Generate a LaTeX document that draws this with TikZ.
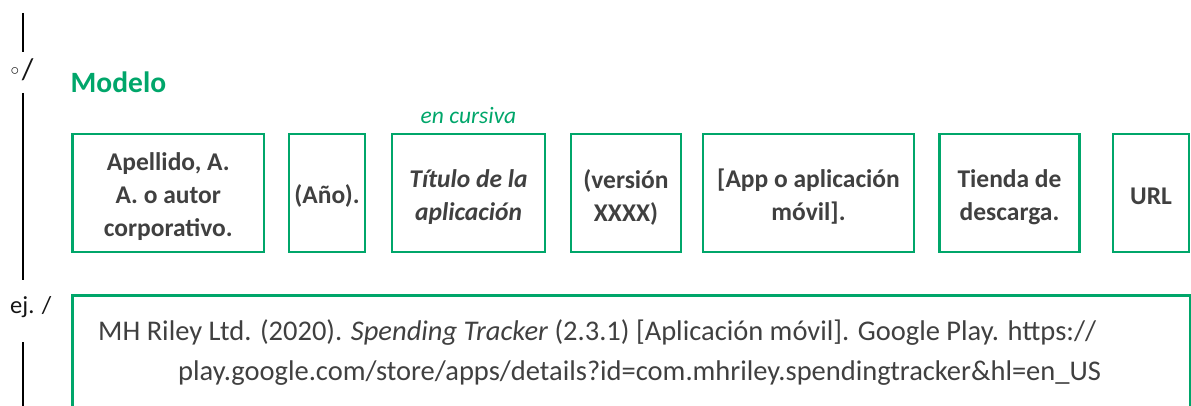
\documentclass[tikz,border=0pt]{standalone}
\usepackage{fontspec}
\setmainfont{Carlito}
\newfontfamily\djv{DejaVu Sans}
\definecolor{apagreen}{RGB}{0,166,106}
\definecolor{txtgray}{RGB}{64,64,64}
\definecolor{marktext}{RGB}{20,20,20}
\begin{document}
\begin{tikzpicture}[x=1pt,y=-1pt,
  fbox/.style={draw=apagreen, line width=2.5pt, inner sep=0pt, minimum height=118pt},
  ftext/.style={inner sep=0pt, align=center, text=txtgray,
    font=\fontsize{25.5}{33}\selectfont\bfseries},
  rulebar/.style={line width=1.3pt, draw=black},
  marklbl/.style={inner sep=0pt, text=marktext, anchor=base west},
  reftext/.style={inner sep=0pt, text=txtgray, anchor=base west,
    font=\fontsize{28.5}{34}\selectfont}]
\useasboundingbox (0,0) rectangle (1191,406);
\clip (0,0) rectangle (1191,406);

% left markers
\coordinate (l1a) at (23,13);
\coordinate (l1b) at (23,52);
\coordinate (l2a) at (23,93);
\coordinate (l2b) at (23,280);
\coordinate (l3a) at (23,342);
\coordinate (l3b) at (23,410);
\draw[rulebar] (l1a) -- (l1b);
\draw[rulebar] (l2a) -- (l2b);
\draw[rulebar] (l3a) -- (l3b);
\node[marklbl] (m1) at (8,80) {{\djv\fontsize{23}{23}\selectfont ◦}{\fontsize{30}{30}\selectfont /}};
\node[marklbl, font=\fontsize{24.5}{28}\selectfont] (m2) at (10,313) {ej. /};

% heading
\node[inner sep=0pt, anchor=base west, text=apagreen,
  font=\fontsize{29.5}{32}\selectfont\bfseries] (modelo) at (70.5,92.5) {Modelo};
\node[inner sep=0pt, anchor=base, text=apagreen,
  font=\fontsize{23.5}{26}\selectfont\itshape] (cursiva) at (468.5,124) {en cursiva};

% model boxes
\node[fbox, minimum width=191.5pt] (b1) at (168.25,193) {};
\node[fbox, minimum width=76pt] (b2) at (327,193) {};
\node[fbox, minimum width=153pt] (b3) at (468.5,193) {};
\node[fbox, minimum width=110pt] (b4) at (626,193) {};
\node[fbox, minimum width=211pt] (b5) at (808.5,193) {};
\node[fbox, minimum width=140pt] (b6) at (1009.5,193) {};
\node[fbox, minimum width=76pt] (b7) at (1151,193) {};
\node[ftext] (t1) at ([yshift=-4pt]b1.center) {Apellido, A.\\A. o autor\\corporativo.};
\node[ftext] (t2) at ([yshift=-3pt]b2.center) {(Año).};
\node[ftext] (t3) at ([yshift=-4pt]b3.center) {\itshape Título de la\\\itshape aplicación};
\node[ftext] (t4) at ([yshift=-4pt]b4.center) {(versión\\XXXX)};
\node[ftext] (t5) at ([yshift=-4pt]b5.center) {[App o aplicación\\móvil].};
\node[ftext] (t6) at ([yshift=-4pt]b6.center) {Tienda de\\descarga.};
\node[ftext] (t7) at ([yshift=-3pt]b7.center) {URL};

% example box
\node[draw=apagreen, line width=2.5pt, inner sep=0pt, minimum width=1118pt,
  minimum height=140pt, anchor=north west] (ex) at (71,294) {};
\node[reftext] (ex1) at (98,340) {MH Riley Ltd. (2020). \textit{Spending Tracker} (2.3.1) [Aplicación móvil]. Google Play. https://};
\node[reftext] (ex2) at (178,380) {play.google.com/store/apps/details?id=com.mhriley.spendingtracker\&hl=en\_US};
\end{tikzpicture}
\end{document}
